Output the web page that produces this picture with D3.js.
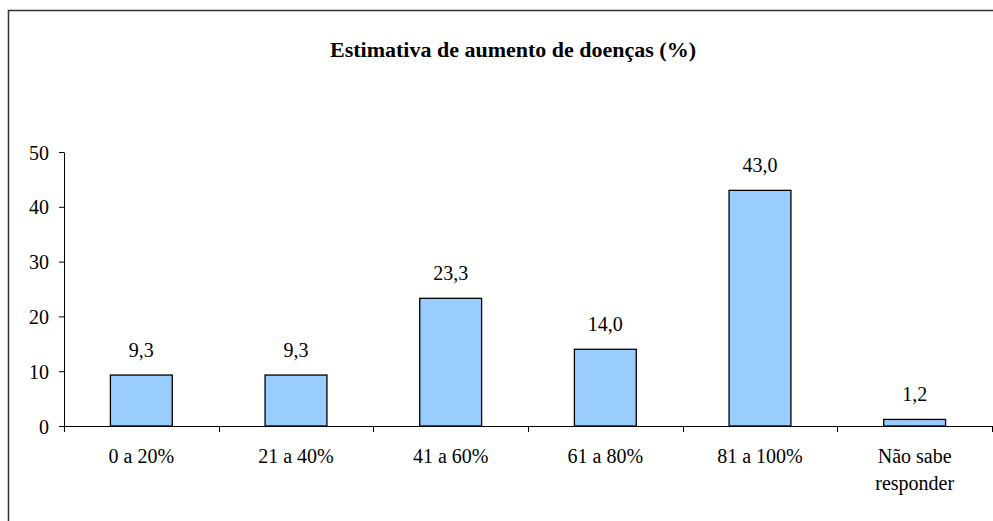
<!DOCTYPE html>
<html>
<head>
<meta charset="utf-8">
<script src="https://cdn.jsdelivr.net/npm/d3@7"></script>
<style>
  html, body { margin: 0; padding: 0; background: #fff; }
  svg { display: block; }
  svg text { font-family: "Liberation Serif", Tinos, "Times New Roman", Times, "DejaVu Serif", "Noto Serif", serif; fill: #000; }
</style>
</head>
<body>
<svg id="chart" width="993" height="521"></svg>
<script>
const categories = ["0 a 20%", "21 a 40%", "41 a 60%", "61 a 80%", "81 a 100%", "Não sabe\nresponder"];
const values = [9.3, 9.3, 23.3, 14.0, 43.0, 1.2];
const yTicks = [0, 10, 20, 30, 40, 50];
const title = "Estimativa de aumento de doenças (%)";

const FONT = '"Liberation Serif", Tinos, "Times New Roman", Times, "DejaVu Serif", "Noto Serif", serif';
const svg = d3.select("#chart").attr("font-family", FONT);
const W = 993, H = 521;
const plot = { left: 64, right: 992, top: 152, bottom: 426 };

// outer chart frame
svg.append("rect")
  .attr("x", 8.5).attr("y", 10.5)
  .attr("width", W + 20).attr("height", H + 20)
  .attr("fill", "none").attr("stroke", "#333").attr("stroke-width", 1.5);

svg.append("text")
  .attr("x", 513).attr("y", 57)
  .attr("text-anchor", "middle")
  .attr("font-weight", "bold")
  .attr("font-size", 22)
  .text(title);

const x = d3.scaleBand().domain(categories).range([plot.left, plot.right]).paddingInner(0.6).paddingOuter(0.3);
const xOuter = d3.scaleBand().domain(categories).range([plot.left, plot.right]);
const y = d3.scaleLinear().domain([0, 50]).range([plot.bottom, plot.top]);

// y axis
const yAxis = svg.append("g")
  .attr("transform", `translate(${plot.left},0)`)
  .call(d3.axisLeft(y).tickValues(yTicks).tickSize(5).tickSizeOuter(0).tickPadding(10).tickFormat(d3.format("d")));
yAxis.attr("font-family", FONT);
yAxis.select(".domain").attr("stroke", "#000");
yAxis.selectAll(".tick line").attr("stroke", "#000");
yAxis.selectAll("text").attr("font-size", 20).attr("dy", "0.35em");

// bars
svg.append("g").selectAll("rect")
  .data(values)
  .join("rect")
  .attr("x", (d, i) => x(categories[i]))
  .attr("width", x.bandwidth())
  .attr("y", d => y(d))
  .attr("height", d => y(0) - y(d))
  .attr("fill", "#99ccff")
  .attr("stroke", "#000")
  .attr("stroke-width", 1.3);

// value labels
svg.append("g").selectAll("text")
  .data(values)
  .join("text")
  .attr("x", (d, i) => x(categories[i]) + x.bandwidth() / 2)
  .attr("y", d => y(d) - 18)
  .attr("text-anchor", "middle")
  .attr("font-size", 20)
  .text(d => d.toFixed(1).replace(".", ","));

// x axis line and boundary ticks
const xg = svg.append("g");
xg.append("line")
  .attr("x1", plot.left).attr("x2", plot.right)
  .attr("y1", plot.bottom + 0.5).attr("y2", plot.bottom + 0.5)
  .attr("stroke", "#000");
const bounds = categories.map(c => xOuter(c)).concat([plot.right]);
xg.selectAll("line.tk")
  .data(bounds)
  .join("line")
  .attr("class", "tk")
  .attr("x1", d => Math.round(d) + 0.5).attr("x2", d => Math.round(d) + 0.5)
  .attr("y1", plot.bottom).attr("y2", plot.bottom + 6)
  .attr("stroke", "#000");

// category labels
xg.selectAll("text")
  .data(categories)
  .join("text")
  .attr("x", d => xOuter(d) + xOuter.bandwidth() / 2)
  .attr("y", 463)
  .attr("text-anchor", "middle")
  .attr("font-size", 20)
  .each(function (d) {
    const lines = d.split("\n");
    d3.select(this).selectAll("tspan")
      .data(lines)
      .join("tspan")
      .attr("x", xOuter(d) + xOuter.bandwidth() / 2)
      .attr("dy", (l, i) => i === 0 ? 0 : 27)
      .text(l => l);
  });
</script>
</body>
</html>
